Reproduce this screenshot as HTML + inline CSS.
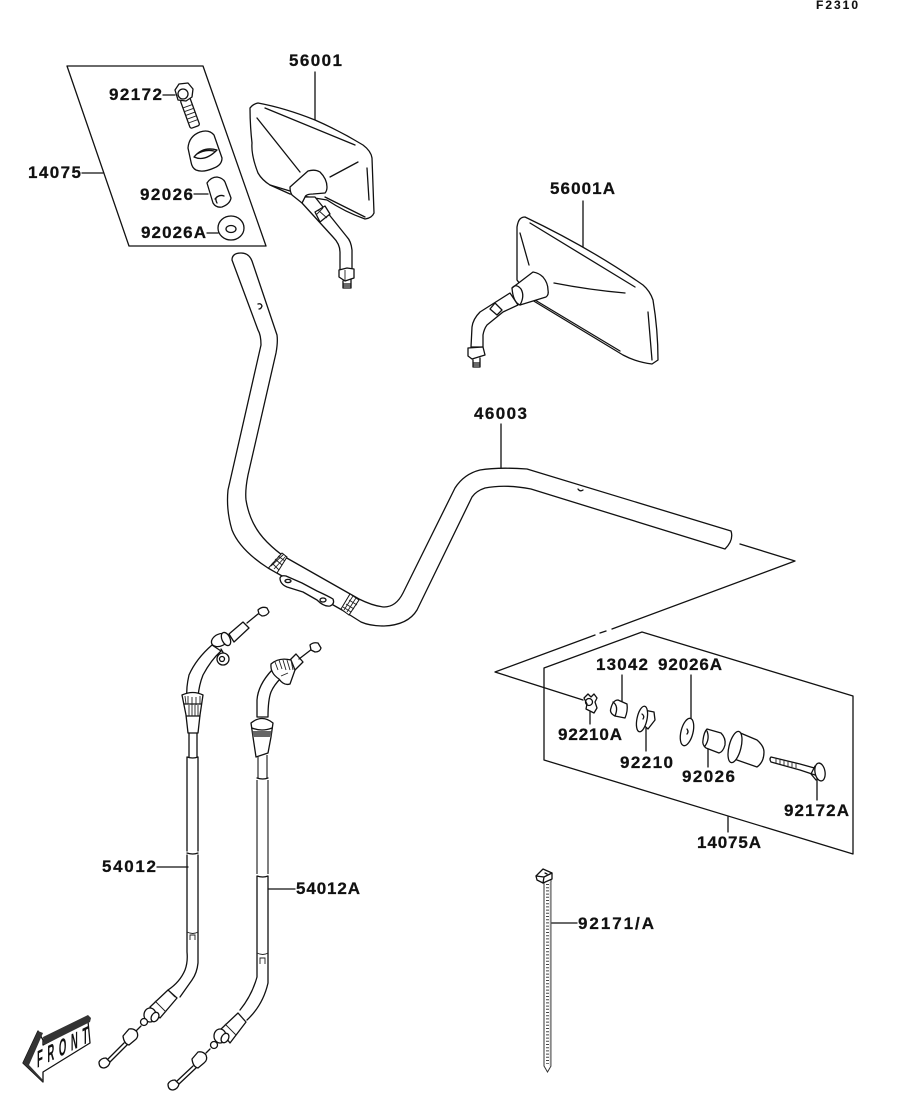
<!DOCTYPE html>
<html><head><meta charset="utf-8"><style>
html,body{margin:0;padding:0;background:#fff;width:914px;height:1103px;overflow:hidden}
svg{display:block}
text{font-family:"Liberation Sans",sans-serif;font-weight:bold;font-size:17px;fill:#111;stroke:#111;stroke-width:.25}
.l{fill:none;stroke:#111;stroke-width:1.3;stroke-linejoin:round;stroke-linecap:round}
.w{fill:#fff;stroke:#111;stroke-width:1.3;stroke-linejoin:round;stroke-linecap:round}
.t{fill:none;stroke:#222;stroke-width:.9}
.g{fill:none;stroke:#555;stroke-width:1.5}
</style></head><body>
<svg width="914" height="1103" viewBox="0 0 914 1103" xmlns="http://www.w3.org/2000/svg">
<text x="816" y="9" textLength="42" style="font-size:12px;stroke-width:.1">F2310</text>

<!-- kit 14075 -->
<path class="l" d="M67 66H203L266 246H129Z"/>
<path class="l" d="M82 173H103M163 95H175M194 194H208M207 233H218"/>
<g transform="rotate(-20 189 110)">
<rect class="w" x="184" y="98" width="10" height="30" rx="2"/>
<path class="t" d="M184 106h10M184 110h10M184 114h10M184 118h10M184 122h10"/>
</g>
<path class="w" d="M175 90L179 84L188 83L193 89L192 97L186 101L178 100Z"/><circle class="w" cx="183" cy="94" r="5"/>
<path class="w" d="M188 148Q189 136 200 132Q209 129 214 135L222 158Q222 165 214 168Q203 173 196 170Q192 168 191 162Z"/>
<path class="l" d="M194 157Q203 146 217 150M194 157Q205 162 217 150M197 154Q205 149 214 151"/>
<path class="w" d="M207 183Q211 177 217 177Q223 178 225 182L231 198Q230 204 222 207Q216 208 213 203Z"/>
<path class="l" d="M215 199Q219 194 224 196M217 203Q214 197 219 196"/>
<ellipse class="w" cx="231" cy="228" rx="13" ry="12"/>
<ellipse class="l" cx="231" cy="229" rx="5" ry="3.5"/>

<!-- mirror 56001 -->
<path class="l" d="M315 72V121"/>
<path class="w" d="M250 108Q253 104 258 103Q285 108 315 120Q340 131 363 145Q371 151 372 158L374 213Q372 218 365 219Q345 212 327 200L290 194L270 185Q262 180 258 173Q251 155 252 143Q250 125 250 108Z"/>
<path class="l" d="M265 108L355 145M257 118L300 172M330 177L358 162M367 168L369 200M325 197L365 217M270 185L290 191"/>
<path class="w" d="M302 203L333 237Q340 244 340 252V270H352V250Q351 241 347 237L315 197L305 197Z"/>
<path class="w" d="M302 203L292 195Q290 192 290 187L308 171Q315 169 320 172Q327 179 327 187Q327 191 325 193L313 194Q306 194 305 197Z"/>
<path class="w" d="M315 212L325 206L330 214L320 222Z"/><path class="t" d="M318 210L327 218M316 215L323 208"/>
<path class="w" d="M339 270L347 268L354 269V278L345 281L339 277Z"/><path class="t" d="M345 270V281"/>
<path class="l" d="M343 281V288H351V279M343 284H351M343 286H351"/>

<!-- mirror 56001A -->
<path class="l" d="M583 201V247"/>
<path class="w" d="M517 227Q518 221 520 219Q522 217 525 217Q590 248 643 285Q650 291 653 300Q658 330 658 360L652 364Q636 362 623 355L532 300L517 280Z"/>
<path class="l" d="M530 223L635 287M520 233L529 265M554 283Q590 290 625 293M648 312L652 360M535 300L620 351"/>
<path class="w" d="M510 293L480 312Q473 319 472 327L471 347H483V335Q484 329 487 325L503 312L518 305Z"/>
<path class="w" d="M495 303L502 310L497 315L490 309Z"/>
<path class="w" d="M512 288L533 272Q539 273 543 277Q548 283 548 290Q549 295 546 297L520 305Q513 302 512 288Z"/>
<path class="l" d="M512 288Q516 283 521 289Q525 296 520 305"/>
<path class="w" d="M468 348L483 347L485 355L472 359L468 356Z"/>
<path class="l" d="M473 360V367H480V358M473 363H480M473 365H480"/>

<!-- handlebar -->
<path class="l" d="M232 260Q232 253 241 253Q249 253 252 261L277 335Q278 342 276 353L248 475Q245 490 246 500Q250 525 267 542Q276 551 285 557L359 599Q373 606 384 607Q396 607 403 593L455 488Q464 474 480 470Q498 467 527 469L731 531Q734 540 725 549L531 489Q505 484 485 488Q476 491 472 497L417 610Q408 625 384 626Q370 626 361 622L342 610L268 568Q240 550 232 530Q226 510 228 490L261 345Q261 335 258 330Z"/>
<path class="l" d="M258 304q3 -1 4 2q-1 3 -3 3M578 489q2 3 5 1"/>
<g fill="#fff" stroke="#111" stroke-width="1">
<path d="M268.5 568L282 553L287 557L277 573Z"/><path d="M341 609L350 594L359 600L349 615Z"/>
</g>
<path class="t" d="M271 566L284 554M274 569L286 556M275 559L282 565M278 556L285 561M272 563L279 570M344 610L353 596M347 612L356 598M346 604L354 609M349 600L357 605M343 607L351 612"/>
<path class="w" d="M280 578Q281 575 286 576L302 583L317 591Q328 596 333 599Q335 604 330 606Q324 607 317 600L303 592L287 587Q280 584 280 578Z"/>
<ellipse class="l" cx="288" cy="581" rx="3" ry="1.6"/><ellipse class="l" cx="323" cy="600" rx="3" ry="2"/>
<path class="l" d="M501 424V468"/>

<!-- exploded guide -->
<path class="l" d="M740 544L795 561L612 629M606 631L600 633M595 635L495 672L583 700"/>
<path class="l" d="M544 760V668L642 632L853 696V854Z"/>
<path class="l" d="M622 675V702M691 675V718M590 712V724M646 728V751M708 748V767M817 778V800M728 817V832"/>
<!-- kit parts -->
<path class="w" d="M584 698L588 694L591 697L594 694L597 698L595 702L597 708L594 713L590 711L586 709L587 704Z"/>
<circle class="l" cx="589" cy="702" r="3.5"/>
<path class="w" d="M611 708Q613 700 618 700L627 704Q628 711 625 718L615 716Q609 713 611 708Z"/><path class="l" d="M613 702Q619 706 615 716"/>
<path class="w" d="M644 710L654 712L655 720L648 729L640 722Z"/>
<ellipse class="w" cx="642" cy="719" rx="5" ry="13" transform="rotate(12 642 719)"/><path class="l" d="M642 714q3 2 1 5"/>
<ellipse class="w" cx="687" cy="732" rx="6" ry="14" transform="rotate(14 687 732)"/><path class="l" d="M687 729q2 3 0 5"/>
<path class="w" d="M707 729L721 733Q726 738 725 745Q723 752 719 753L706 748Q702 745 703 740Q704 732 707 729Z"/><path class="l" d="M707 731q3 8 -2 15"/>
<path class="w" d="M738 732L757 740Q764 746 764 752Q764 762 757 767L737 760L729 757L736 745Z"/>
<ellipse class="w" cx="735" cy="747" rx="6" ry="16" transform="rotate(14 735 747)"/>
<path class="w" d="M771 757L800 764L818 769V776L800 770L771 762Q769 759 771 757Z"/>
<path class="t" d="M776 758v5M780 759v5M784 760v5M788 761v5M792 762v5M796 763v5"/>
<ellipse class="w" cx="820" cy="772" rx="5" ry="9" transform="rotate(-10 820 772)"/><path class="l" d="M815 766L811 774L816 780"/>

<!-- cable 54012 -->
<path class="w" d="M212 645Q196 659 189 675Q186 688 187 697H198Q199 685 203 675Q211 660 221 651Z"/>
<path class="w" d="M229 634L243 622L249 628L234 642Z"/>
<path class="l" d="M247 623L258 614"/>
<path class="w" d="M258 610Q262 606 267 608L269 612Q267 616 262 616L259 614Z"/>
<ellipse class="w" cx="220" cy="640" rx="9" ry="6" transform="rotate(-25 220 640)"/>
<ellipse class="w" cx="226" cy="639" rx="4" ry="7" transform="rotate(-25 226 639)"/>
<path class="l" d="M221 649L224 654"/>
<ellipse class="w" cx="223" cy="659" rx="6" ry="6"/><circle class="l" cx="222" cy="659" r="2.5"/>
<path class="w" d="M182 695Q193 690 203 695L200 715L198 733H188L186 715Z"/>
<path class="l" d="M184 704H201M186 716H200"/><path class="t" d="M189 705v11M192 705v11M195 705v11M198 705v11M185 696l1 8M188 696v8M192 697v8M196 697v8M200 696v8"/>
<path class="l" d="M189 733V757M197 733V757M187 757Q193 759 198 757M187 757V851M198 757V851M187 853Q193 855 198 853M187 855V952M198 855V963Q197 973 192 980L180 997M187 952Q188 962 185 970Q180 982 168 990"/>
<path class="t" d="M187 932Q193 935 198 932M190 940V935H193M195 940V935H193"/>
<path class="w" d="M168 990L177 998L160 1018L150 1007Z"/>
<path class="t" d="M155 1001L166 1012M170 992L175 997"/>
<ellipse class="w" cx="150" cy="1015" rx="6" ry="7"/><ellipse class="w" cx="155" cy="1017" rx="3.5" ry="5" transform="rotate(30 155 1017)"/>
<circle class="w" cx="144" cy="1022" r="3.5"/><path class="l" d="M141 1026L136 1031"/>
<path class="w" d="M123 1036L129 1029Q134 1028 137 1032Q139 1037 135 1040L129 1045Q124 1044 123 1036Z"/>
<path class="l" d="M124 1043L108 1059M127 1045L110 1062"/>
<path class="w" d="M99 1062Q101 1058 106 1058L110 1062Q109 1067 104 1068Q99 1068 99 1062Z"/>

<!-- cable 54012A -->
<path class="w" d="M272 670Q258 685 257 700V717H268Q268 700 271 692Q274 685 281 678Z"/>
<path class="w" d="M288 662L296 654L303 662L292 673Z"/>
<path class="l" d="M299 659L312 649"/>
<path class="w" d="M310 645Q313 642 318 643L321 648Q320 652 315 652L311 650Z"/>
<path class="w" d="M271 664Q279 657 291 660L295 670L290 684Q284 686 279 679Q270 673 271 664Z"/>
<path class="t" d="M275 662l3 8M279 660l3 9M283 660l3 10M287 660l3 10M291 660l2 10M281 676l7 -3"/>
<path class="w" d="M251 723Q262 714 273 723L271 737L268 753L256 757L253 737Z"/>
<path d="M252.5 731H271.5L271 737H253Z" fill="#666"/><path class="l" d="M252 728Q262 732 272 728"/>
<path class="g" d="M258 757V778M267 755V778M257 780V874M268 780V874"/>
<path class="l" d="M257 778Q263 780 268 778"/>
<path class="l" d="M257 876Q263 878 268 876M257 876V977Q252 995 240 1010M268 876V983Q263 1005 247 1020"/>
<path class="t" d="M257 953Q263 956 268 953M260 964V958H263M265 964V958H263"/>
<path class="w" d="M238 1013L246 1022L230 1043L220 1030Z"/>
<path class="t" d="M225 1024L236 1035M240 1015L244 1020"/>
<ellipse class="w" cx="220" cy="1036" rx="6" ry="7"/><ellipse class="w" cx="225" cy="1038" rx="3.5" ry="5" transform="rotate(30 225 1038)"/>
<circle class="w" cx="214" cy="1045" r="3.5"/><path class="l" d="M210 1049L206 1053"/>
<path class="w" d="M192 1059L198 1052Q203 1051 206 1055Q208 1060 204 1063L198 1068Q193 1067 192 1059Z"/>
<path class="l" d="M193 1066L177 1081M196 1068L179 1084"/>
<path class="w" d="M168 1084Q170 1080 175 1080L179 1084Q178 1089 173 1090Q168 1090 168 1084Z"/>

<path class="l" d="M157 867H188M268 889H295M550 923H577"/>

<!-- tie -->
<rect x="544.5" y="884" width="6" height="184" fill="#fff"/>
<path d="M544 883V1066L547.5 1072L551 1066V880" fill="none" stroke="#333" stroke-width="1"/>
<path d="M550.5 882V1066" fill="none" stroke="#888" stroke-width="1.4"/>
<path d="M547.5 884V1064" fill="none" stroke="#444" stroke-width="3" stroke-dasharray="1 2.2"/>
<path class="w" d="M536 876L543 869L552 873L552 879L543 883L537 880Z"/>
<path class="l" d="M536 876L544 877L552 873M544 877L543 883M545 873l2 1"/>

<!-- FRONT arrow -->
<path class="w" d="M43 1045L88 1021L90 1043L43 1072V1082L23 1063L38 1031L43 1040Z"/>
<path d="M43 1037L88 1015L91 1018L90 1022L44 1045ZM23 1063L38 1031L43 1033L29 1065L43 1080V1082Z" fill="#333"/>
<text transform="matrix(.4,-.2,0,1,37,1068)" textLength="128" style="font-size:24px;stroke-width:0">FRONT</text>

<!-- labels -->
<text x="289" y="66" textLength="53">56001</text>
<text x="109" y="100" textLength="53">92172</text>
<text x="28" y="178" textLength="53">14075</text>
<text x="140" y="200" textLength="53">92026</text>
<text x="141" y="238" textLength="65">92026A</text>
<text x="550" y="194" textLength="65">56001A</text>
<text x="474" y="419" textLength="53">46003</text>
<text x="596" y="670" textLength="52">13042</text>
<text x="658" y="670" textLength="64">92026A</text>
<text x="558" y="740" textLength="64">92210A</text>
<text x="620" y="768" textLength="53">92210</text>
<text x="682" y="782" textLength="53">92026</text>
<text x="784" y="816" textLength="65">92172A</text>
<text x="697" y="848" textLength="64">14075A</text>
<text x="102" y="872" textLength="54">54012</text>
<text x="296" y="894" textLength="64">54012A</text>
<text x="578" y="929" textLength="76">92171/A</text>
</svg>
</body></html>
